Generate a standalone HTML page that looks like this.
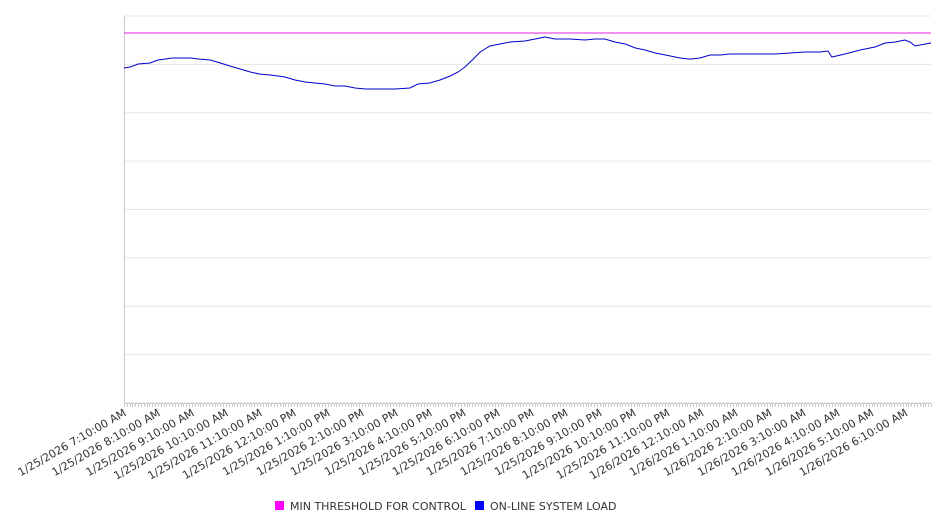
<!DOCTYPE html>
<html><head><meta charset="utf-8"><style>
html,body{margin:0;padding:0;background:#fff;}
svg{display:block;font-family:"DejaVu Sans","Liberation Sans",sans-serif;}
</style></head><body>
<svg id="chart" width="946" height="526"></svg>
<script>
const threshold = 7648;
const loadMinutes = [0,11,25,46,60,72,85,99,117,134,152,170,187,205,223,240,258,272,284,302,320,337,355,373,390,408,426,452,479,505,519,540,558,576,590,602,615,629,646,664,682,708,735,743,761,788,814,832,849,867,885,903,920,938,956,982,1000,1017,1035,1053,1070,1097,1123,1150,1176,1203,1229,1243,1250,1273,1300,1326,1344,1362,1379,1388,1397,1415,1425];
const loadValues = [6925,6945,7007,7028,7090,7110,7131,7131,7131,7110,7090,7028,6966,6904,6842,6800,6780,6759,6738,6676,6635,6614,6594,6553,6553,6511,6490,6490,6490,6511,6594,6614,6676,6759,6842,6945,7090,7255,7379,7421,7462,7483,7545,7565,7524,7524,7503,7524,7524,7462,7421,7338,7297,7235,7193,7131,7110,7131,7193,7193,7214,7214,7214,7214,7235,7255,7255,7276,7152,7214,7297,7359,7441,7462,7503,7462,7379,7421,7441];
const tickLabels = ["1/25/2026 7:10:00 AM","1/25/2026 8:10:00 AM","1/25/2026 9:10:00 AM","1/25/2026 10:10:00 AM","1/25/2026 11:10:00 AM","1/25/2026 12:10:00 PM","1/25/2026 1:10:00 PM","1/25/2026 2:10:00 PM","1/25/2026 3:10:00 PM","1/25/2026 4:10:00 PM","1/25/2026 5:10:00 PM","1/25/2026 6:10:00 PM","1/25/2026 7:10:00 PM","1/25/2026 8:10:00 PM","1/25/2026 9:10:00 PM","1/25/2026 10:10:00 PM","1/25/2026 11:10:00 PM","1/26/2026 12:10:00 AM","1/26/2026 1:10:00 AM","1/26/2026 2:10:00 AM","1/26/2026 3:10:00 AM","1/26/2026 4:10:00 AM","1/26/2026 5:10:00 AM","1/26/2026 6:10:00 AM"];

const svg = document.getElementById('chart');
const NS = 'http://www.w3.org/2000/svg';
const L = 124, R = 931, T = 16, B = 403;
const maxMin = 1425, yMax = 8000;
const xs = m => L + m / maxMin * (R - L);
const ys = v => B - v / yMax * (B - T);
function mk(tag, attrs){const e=document.createElementNS(NS,tag);for(const k in attrs)e.setAttribute(k,attrs[k]);svg.appendChild(e);return e;}

for(let g=0; g<=8; g++){
  const y = ys(g*1000);
  const ln = mk('line',{x1:L,x2:R,y1:y,y2:y,stroke:'#e6e6e6','stroke-width':1});
  
  
}
const yAxis = mk('line',{x1:L+0.5,x2:L+0.5,y1:T,y2:B,stroke:'#c8c8c8'});


const xAxis = mk('line',{x1:L,x2:R,y1:B+0.5,y2:B+0.5,stroke:'#c8c8c8'});


for(let m=0; m<=maxMin; m+=5){
  const x = Math.round(xs(m))+0.5;
  const t = mk('line',{x1:x,x2:x,y1:B,y2:B+4,stroke:'#c8c8c8'});
  
  
}
tickLabels.forEach((lab,i)=>{
  const x = xs(i*60)+3, y = B+12;
  const t = mk('text',{x:x,y:y,'text-anchor':'end','font-size':11,fill:'#333',transform:`rotate(-30 ${x} ${y})`});
  t.textContent = lab;
  
  
});
const th = mk('line',{x1:L,x2:R,y1:ys(threshold),y2:ys(threshold),stroke:'#e020e0','stroke-width':1});


const pts = loadMinutes.map((m,i)=>xs(m).toFixed(1)+','+ys(loadValues[i]).toFixed(1)).join(' ');
const pl = mk('polyline',{points:pts,fill:'none',stroke:'#0000cc','stroke-width':1});



const legend = [["#ff00ff","MIN THRESHOLD FOR CONTROL",275,"legend-entry-threshold"],["#0000ff","ON-LINE SYSTEM LOAD",475,"legend-entry-load"]];
legend.forEach(([c,txt,x,name])=>{
  const r = mk('rect',{x:x,y:501,width:9,height:9,fill:c});
  
  
  const t = mk('text',{x:x+15,y:510,'font-size':11,fill:'#333'});
  t.textContent = txt;
  
  
});
</script>
</body></html>
